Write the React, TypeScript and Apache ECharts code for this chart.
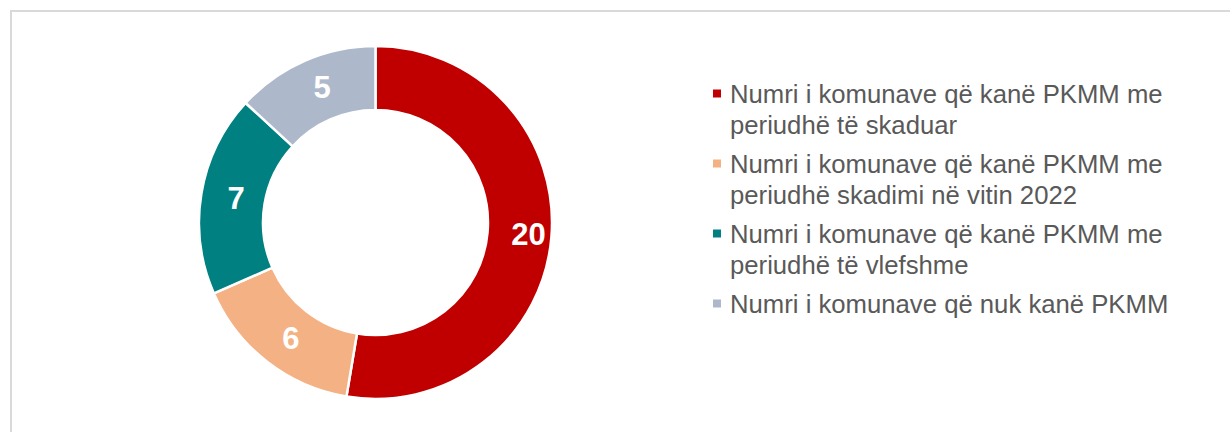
import React, { useEffect, useRef } from "react";
import * as echarts from "echarts";

const categories: string[] = [
  "Numri i komunave që kanë PKMM me\nperiudhë të skaduar",
  "Numri i komunave që kanë PKMM me\nperiudhë skadimi në vitin 2022",
  "Numri i komunave që kanë PKMM me\nperiudhë të vlefshme",
  "Numri i komunave që nuk kanë PKMM",
];
const values: number[] = [20, 6, 7, 5];
const colors: string[] = ["#C00000", "#F4B183", "#008080", "#ADB9CA"];

const LEGEND_X = 713;
const LEGEND_FIRST_CENTER = 93.5;
const LINE_H = 31.5;
const ITEM_GAP = 7;

export default function App() {
  const ref = useRef<HTMLDivElement>(null);
  useEffect(() => {
    if (!ref.current) return;
    const chart = echarts.init(ref.current, undefined, { renderer: "svg" });

    const legendEls: any[] = [];
    let center = LEGEND_FIRST_CENTER;
    categories.forEach((name, i) => {
      const lines = name.split("\n").length;
      legendEls.push({
        type: "rect",
        shape: { x: LEGEND_X, y: center - 4, width: 8, height: 8 },
        style: { fill: colors[i] },
        silent: true,
      });
      legendEls.push({
        type: "text",
        x: 730,
        y: center - LINE_H / 2,
        style: {
          text: name,
          fontSize: 25.7,
          lineHeight: LINE_H,
          fontFamily: "'Liberation Sans', Arial, sans-serif",
          fill: "#595959",
          verticalAlign: "top",
          align: "left",
        },
        silent: true,
      });
      center += lines * LINE_H + ITEM_GAP;
    });

    chart.setOption({
      animation: false,
      backgroundColor: "#ffffff",
      graphic: [
        {
          type: "rect",
          shape: { x: 11, y: 11, width: 1400, height: 600 },
          style: { fill: "none", stroke: "#D9D9D9", lineWidth: 2 },
          silent: true,
        },
        ...legendEls,
      ],
      series: [
        {
          type: "pie",
          center: [375.5, 222.5],
          radius: [112.5, 176.5],
          startAngle: 90,
          clockwise: true,
          avoidLabelOverlap: false,
          itemStyle: { borderColor: "#ffffff", borderWidth: 2.5 },
          label: {
            show: true,
            position: "inside",
            formatter: "{c}",
            color: "#ffffff",
            fontSize: 31,
            fontWeight: "bold",
            fontFamily: "'Liberation Sans', Arial, sans-serif",
            padding: [4, 0, 0, 12],
          },
          labelLine: { show: false },
          emphasis: { disabled: true },
          data: categories.map((name, i) => ({
            name,
            value: values[i],
            itemStyle: { color: colors[i] },
          })),
        },
      ],
    });
    return () => chart.dispose();
  }, []);
  return (
    <div
      ref={ref}
      style={{ position: "absolute", left: 0, top: 0, width: 1230, height: 432 }}
    />
  );
}
